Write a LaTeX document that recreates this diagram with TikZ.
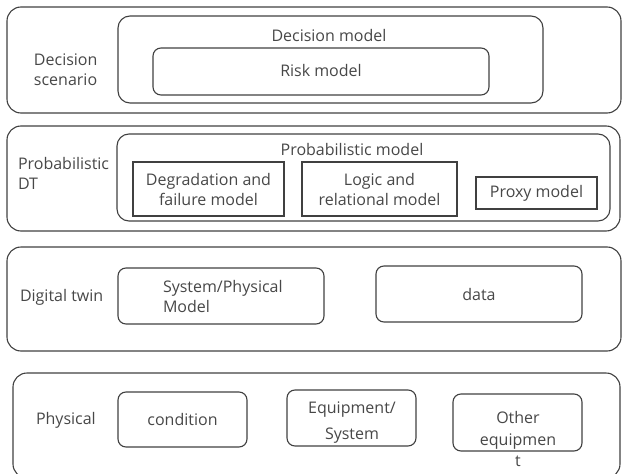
\documentclass[tikz,border=0pt]{standalone}
\usepackage{fontspec}
\setmainfont{Open Sans}
\begin{document}
\begin{tikzpicture}[x=1pt,y=-1pt,
  font=\fontsize{16}{20}\selectfont,
  every node/.style={inner sep=0pt, outer sep=0pt},
  layer/.style={draw=black!75, line width=1.1pt, rounded corners=14pt},
  rbox/.style={draw=black!75, line width=1.1pt, rounded corners=#1},
  rbox/.default=8pt,
  sbox/.style={draw=black!75, line width=1.1pt},
  txt/.style={text=black!72, align=center},
  ltxt/.style={text=black!72, align=left, anchor=west}]
\useasboundingbox (0,0) rectangle (622,474);

% Layer 1: decision scenario
\node[layer, minimum width=614pt, minimum height=106pt] (L1) at (314,60) {};
\node[rbox=12pt, minimum width=425pt, minimum height=87pt] (dm) at (330.5,59.5) {};
\node[rbox, minimum width=336pt, minimum height=47pt] (rm) at (321,71.5) {};
\node[txt] (dmt) at (329,35) {Decision model};
\node[txt] (rmt) at (321,70) {Risk model};
\node[ltxt] (l1t) at (34,70) {Decision\\scenario};

% Layer 2: probabilistic digital twin
\node[layer, minimum width=613pt, minimum height=105pt] (L2) at (313.5,178.5) {};
\node[rbox=12pt, minimum width=493pt, minimum height=87pt] (pm) at (363.5,177.5) {};
\node[txt] (pmt) at (352,149) {Probabilistic model};
\node[sbox, minimum width=151pt, minimum height=54pt, txt] (deg) at (208.5,189) {Degradation and\\failure model};
\node[sbox, minimum width=155pt, minimum height=54pt, txt] (log) at (379.5,189) {Logic and\\relational model};
\node[sbox, minimum width=121pt, minimum height=32pt, txt] (prx) at (536.5,193) {Proxy model};
\node[ltxt] (l2t) at (18,173) {Probabilistic\\DT};

% Layer 3: digital twin
\node[layer, minimum width=614pt, minimum height=104pt] (L3) at (314,299) {};
\node[rbox, minimum width=206pt, minimum height=56pt] (sys) at (221,296) {};
\node[ltxt] (syst) at (163,296) {System/Physical\\Model};
\node[rbox, minimum width=206pt, minimum height=56pt, txt] (dat) at (479,294) {data};
\node[ltxt] (l3t) at (20,297) {Digital twin};

% Layer 4: physical
\node[layer, minimum width=607pt, minimum height=105pt] (L4) at (316.5,425.5) {};
\node[rbox, minimum width=129pt, minimum height=55pt, txt] (cnd) at (182.5,419.5) {condition};
\node[rbox, minimum width=129pt, minimum height=56pt] (eqp) at (351.5,418) {};
\node[txt, font=\fontsize{16}{26}\selectfont] (eqpt) at (352,423) {Equipment/\\System};
\node[rbox, minimum width=129pt, minimum height=57pt] (oth) at (517.5,422.5) {};
\node[txt, font=\fontsize{16}{21.5}\selectfont] (otht) at (518,439) {Other\\equipmen\\t};
\node[ltxt] (l4t) at (36,420) {Physical};
\end{tikzpicture}
\end{document}
